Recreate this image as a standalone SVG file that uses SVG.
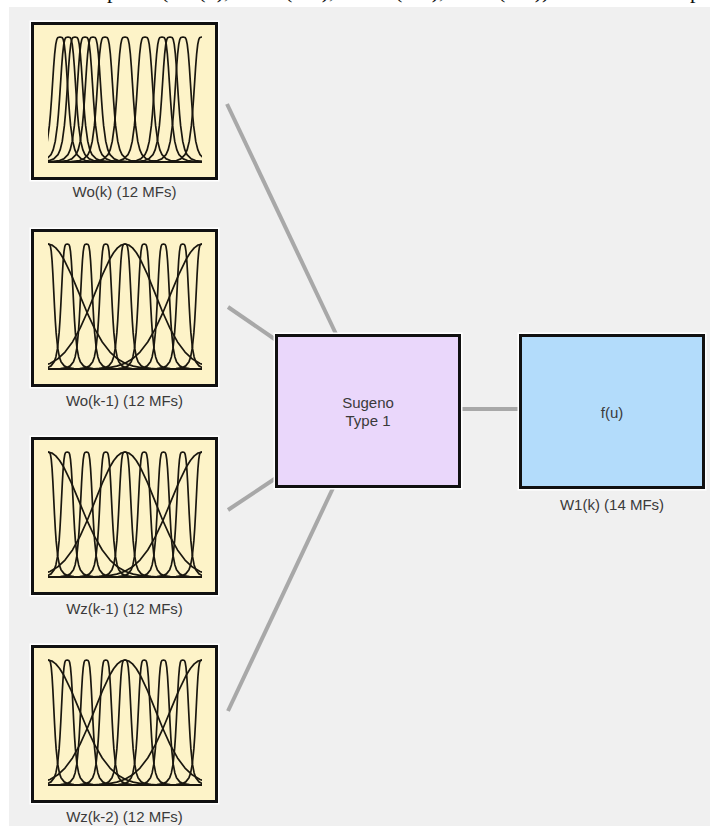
<svg xmlns="http://www.w3.org/2000/svg" xmlns:xlink="http://www.w3.org/1999/xlink" width="710" height="826" viewBox="0 0 710 826">
  <style>
    .bg { fill: #f0f0f0; }
    .halo { fill: none; stroke: #ffffff; stroke-width: 6; }
    .frame { stroke: #111111; stroke-width: 3; }
    .inp { fill: #fdf3c8; }
    .rule { fill: #ead7fb; }
    .outp { fill: #b3dcfb; }
    .mf { fill: none; stroke: #1a170f; stroke-width: 1.7; stroke-linejoin: round; vector-effect: non-scaling-stroke; }
    .base { stroke: #1a170f; stroke-width: 2; }
    .wire { stroke: #a8a8a8; stroke-width: 4; fill: none; }
    .lbl { font-family: "Liberation Sans", Arial, sans-serif; font-size: 15px; fill: #3a3a3a; text-anchor: middle; }
    .head { font-family: "Liberation Serif", "Times New Roman", serif; font-size: 22px; fill: #111111; }
  </style>
  <defs>
    <!-- unit gaussian: x in sigma units, y = 1 - exp(-x^2/2) (0 = peak, 1 = floor) -->
    <path id="gauss" class="mf" d="M-8,1 L-4,0.9997 L-3.75,0.9991 L-3.5,0.9978 L-3.25,0.9949 L-3,0.9889 L-2.75,0.9772 L-2.5,0.9561 L-2.25,0.9204 L-2,0.8647 L-1.75,0.7837 L-1.5,0.6753 L-1.25,0.5422 L-1,0.3935 L-0.75,0.2452 L-0.5,0.1175 L-0.375,0.0679 L-0.25,0.0308 L-0.125,0.0078 L0,0 L0.125,0.0078 L0.25,0.0308 L0.375,0.0679 L0.5,0.1175 L0.75,0.2452 L1,0.3935 L1.25,0.5422 L1.5,0.6753 L1.75,0.7837 L2,0.8647 L2.25,0.9204 L2.5,0.9561 L2.75,0.9772 L3,0.9889 L3.25,0.9949 L3.5,0.9978 L3.75,0.9991 L4,0.9997 L8,1"/>
    <!-- unit generalized bell, b = 2: y = 1 - 1/(1 + x^4), x in half-width units -->
    <path id="gbell" class="mf" d="M-10,1 L-6,0.9992 L-4,0.9961 L-3,0.9878 L-2.5,0.975 L-2,0.9412 L-1.75,0.9037 L-1.5,0.8351 L-1.25,0.7094 L-1.125,0.6157 L-1,0.5 L-0.875,0.3696 L-0.75,0.2403 L-0.625,0.1324 L-0.5,0.0588 L-0.375,0.0194 L-0.25,0.0039 L0,0 L0.25,0.0039 L0.375,0.0194 L0.5,0.0588 L0.625,0.1324 L0.75,0.2403 L0.875,0.3696 L1,0.5 L1.125,0.6157 L1.25,0.7094 L1.5,0.8351 L1.75,0.9037 L2,0.9412 L2.5,0.975 L3,0.9878 L4,0.9961 L6,0.9992 L10,1"/>
    <clipPath id="plotClip">
      <rect x="48" y="13" width="154" height="129"/>
    </clipPath>
    <!-- 12 membership functions, first input -->
    <g id="mfSetA" clip-path="url(#plotClip)">
      <use xlink:href="#gbell" href="#gbell" transform="translate(60,15) scale(8.5,125)"/>
      <use xlink:href="#gbell" href="#gbell" transform="translate(68,15) scale(8.5,125)"/>
      <use xlink:href="#gbell" href="#gbell" transform="translate(75,15) scale(8.5,125)"/>
      <use xlink:href="#gbell" href="#gbell" transform="translate(85,15) scale(8.5,125)"/>
      <use xlink:href="#gbell" href="#gbell" transform="translate(93,15) scale(8.5,125)"/>
      <use xlink:href="#gbell" href="#gbell" transform="translate(105,15) scale(8.5,125)"/>
      <use xlink:href="#gbell" href="#gbell" transform="translate(125,15) scale(8.5,125)"/>
      <use xlink:href="#gbell" href="#gbell" transform="translate(145,15) scale(8.5,125)"/>
      <use xlink:href="#gbell" href="#gbell" transform="translate(162,15) scale(8.5,125)"/>
      <use xlink:href="#gbell" href="#gbell" transform="translate(170,15) scale(8.5,125)"/>
      <use xlink:href="#gbell" href="#gbell" transform="translate(183,15) scale(8.5,125)"/>
      <use xlink:href="#gbell" href="#gbell" transform="translate(202,15) scale(8.5,125)"/>
      <line class="base" x1="48" y1="140" x2="202" y2="140"/>
    </g>
    <!-- 12 membership functions, remaining inputs -->
    <g id="mfSetB" clip-path="url(#plotClip)">
      <use xlink:href="#gauss" href="#gauss" transform="translate(48,15) scale(31,125)"/>
      <use xlink:href="#gauss" href="#gauss" transform="translate(125,15) scale(30,125)"/>
      <use xlink:href="#gauss" href="#gauss" transform="translate(202,15) scale(31,125)"/>
      <use xlink:href="#gbell" href="#gbell" transform="translate(48,15) scale(6.5,125)"/>
      <use xlink:href="#gbell" href="#gbell" transform="translate(67.25,15) scale(6.5,125)"/>
      <use xlink:href="#gbell" href="#gbell" transform="translate(86.5,15) scale(6.5,125)"/>
      <use xlink:href="#gbell" href="#gbell" transform="translate(105.75,15) scale(6.5,125)"/>
      <use xlink:href="#gbell" href="#gbell" transform="translate(125,15) scale(6.5,125)"/>
      <use xlink:href="#gbell" href="#gbell" transform="translate(144.25,15) scale(6.5,125)"/>
      <use xlink:href="#gbell" href="#gbell" transform="translate(163.5,15) scale(6.5,125)"/>
      <use xlink:href="#gbell" href="#gbell" transform="translate(182.75,15) scale(6.5,125)"/>
      <use xlink:href="#gbell" href="#gbell" transform="translate(202,15) scale(6.5,125)"/>
      <line class="base" x1="48" y1="140" x2="202" y2="140"/>
    </g>
  </defs>

  <rect x="0" y="0" width="710" height="826" fill="#ffffff"/>
  <rect class="bg" x="9" y="7" width="701" height="819"/>

  <!-- caption line running off the top edge: only its descenders fall inside the frame -->
  <text class="head" y="-2"><tspan x="90">inputs</tspan><tspan x="161">(Wo(k),</tspan><tspan x="255">Wo(k-1),</tspan><tspan x="364.5">Wz(k-1),</tspan><tspan x="467.5">Wz(k-2))</tspan><tspan x="662">output</tspan></text>

  <g id="connectors">
    <line class="wire" x1="227" y1="104" x2="336" y2="334"/>
    <line class="wire" x1="228" y1="307" x2="276" y2="340"/>
    <line class="wire" x1="228" y1="510" x2="276" y2="478"/>
    <line class="wire" x1="228" y1="711" x2="333" y2="488"/>
    <line class="wire" x1="461" y1="409" x2="518" y2="409"/>
  </g>

  <g id="input-wo-k" transform="translate(0,22)">
    <rect class="halo" x="32.5" y="1.5" width="184" height="155"/>
    <rect class="inp frame" x="32.5" y="1.5" width="184" height="155"/>
    <use xlink:href="#mfSetA" href="#mfSetA"/>
    <text class="lbl" x="124.5" y="175">Wo(k) (12 MFs)</text>
  </g>

  <g id="input-wo-k1" transform="translate(0,229)">
    <rect class="halo" x="32.5" y="1.5" width="184" height="155"/>
    <rect class="inp frame" x="32.5" y="1.5" width="184" height="155"/>
    <use xlink:href="#mfSetB" href="#mfSetB"/>
    <text class="lbl" x="124.5" y="177">Wo(k-1) (12 MFs)</text>
  </g>

  <g id="input-wz-k1" transform="translate(0,437)">
    <rect class="halo" x="32.5" y="1.5" width="184" height="155"/>
    <rect class="inp frame" x="32.5" y="1.5" width="184" height="155"/>
    <use xlink:href="#mfSetB" href="#mfSetB"/>
    <text class="lbl" x="124.5" y="177">Wz(k-1) (12 MFs)</text>
  </g>

  <g id="input-wz-k2" transform="translate(0,645)">
    <rect class="halo" x="32.5" y="1.5" width="184" height="155"/>
    <rect class="inp frame" x="32.5" y="1.5" width="184" height="155"/>
    <use xlink:href="#mfSetB" href="#mfSetB"/>
    <text class="lbl" x="124.5" y="177">Wz(k-2) (12 MFs)</text>
  </g>

  <g id="rule-block">
    <rect class="halo" x="276.5" y="335.5" width="183" height="151"/>
    <rect class="rule frame" x="276.5" y="335.5" width="183" height="151"/>
    <text class="lbl" x="368" y="408">Sugeno</text>
    <text class="lbl" x="368" y="426">Type 1</text>
  </g>

  <g id="output-w1-k">
    <rect class="halo" x="520.5" y="335.5" width="183" height="152"/>
    <rect class="outp frame" x="520.5" y="335.5" width="183" height="152"/>
    <text class="lbl" x="612" y="418">f(u)</text>
    <text class="lbl" x="612" y="510">W1(k) (14 MFs)</text>
  </g>
</svg>
